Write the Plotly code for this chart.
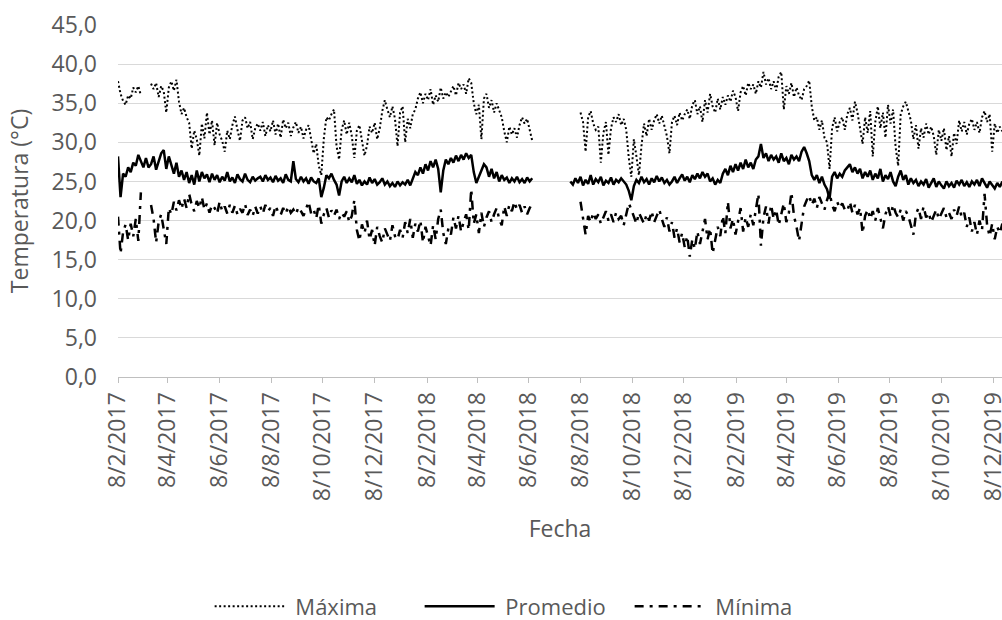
import pandas as pd
import plotly.graph_objects as go

START = "2017-02-08"
STEP_DAYS = 3
X_END = "2019-12-18 14:00"

# ---- Máxima (every 3 days from 8/2/2017; None = no data) ----
maxima_2017 = [37.8, 36.2, 35.3, 34.8, 36.0, 35.6, 37.0, 36.4, 37.2, 36.0,
               None, None, None,
               37.5, 36.8, 37.6, 35.8, 37.2, 36.5, 33.8,
               37.0, 37.8, 36.6, 38.0, 35.2, 33.6, 34.4, 33.2, 32.5, 29.2,
               31.5, 30.4, 28.3, 32.4, 30.5, 33.8, 31.0, 32.8, 29.6, 32.5,
               31.0, 30.2, 28.8, 31.5, 30.4, 32.2, 33.3, 31.6, 30.2, 32.8,
               33.2, 31.8, 32.6, 30.4, 31.8, 32.4,
               31.5, 32.6, 30.8, 32.2, 31.4, 32.8, 31.0, 32.4, 30.6, 32.9,
               31.8, 32.5, 30.8, 31.9, 32.6, 31.2, 32.0, 30.5, 31.6, 32.2,
               30.4, 28.6, 29.8, 27.0, 25.8, 30.5, 33.2, 32.8, 33.6, 34.2,
               29.5, 27.8, 31.6, 32.8, 31.0, 32.5, 30.8, 28.0, 31.5, 32.2,
               30.2, 28.3, 29.6, 32.0, 31.2, 32.5, 30.4, 31.8, 34.0, 35.4,
               34.2, 33.2, 34.6]
maxima_2018 = [33.0, 29.5, 33.8, 34.6,
               30.0, 33.0, 31.8, 33.6, 34.2, 35.6, 36.4, 35.0, 36.2, 35.4,
               36.8, 34.8, 36.0, 35.2, 37.0, 35.6, 36.4, 35.8, 36.6, 37.2,
               36.0, 37.6, 36.8, 37.4, 36.2, 38.2, 37.6, 35.0, 33.6, 34.8,
               30.4, 35.6, 36.2, 34.4, 35.4, 33.8, 35.0, 34.0, 33.2, 31.4,
               30.0, 32.0, 31.0, 31.8, 30.6, 32.2, 33.2, 32.4, 33.0, 31.6, 30.2,
               None, None, None, None, None, None, None, None, None,
               None, None, None, None, None, None, None, None, None,
               33.8, 32.6, 28.8, 33.2, 34.0, 32.4, 31.6, 32.0, 27.4, 31.2,
               32.6, 28.4, 31.8, 33.2, 32.6, 33.6, 32.2, 33.0, 31.6, 28.0,
               25.6, 30.4, 28.2, 25.8, 29.6, 32.4, 30.8, 33.0, 31.6, 32.8,
               33.6, 32.4, 33.4, 32.0, 30.8, 28.6, 32.6, 33.4, 32.2, 33.8,
               32.8, 33.6, 34.2, 33.0, 34.8, 35.4, 33.6, 34.6, 32.6]
maxima_2019 = [35.4, 33.8, 36.2, 34.6, 33.8, 35.6, 34.2, 35.8, 34.8, 36.0,
               35.2, 36.6, 35.8, 34.0, 36.4, 37.2, 36.0, 37.6, 36.8, 37.4,
               36.2, 37.8, 37.0, 39.0, 37.4, 38.2, 36.8, 37.8, 36.6, 38.4,
               39.0, 34.2, 37.2, 36.2, 37.6, 35.8, 37.0, 36.0, 35.4, 36.8,
               37.2, 37.9, 34.6, 32.8, 33.2, 31.6, 32.8, 30.6, 30.0, 26.6,
               31.8, 33.2, 31.4, 32.6, 33.2, 31.6,
               33.6, 34.4, 32.8, 35.2, 33.8, 31.6, 29.8, 33.2, 31.2, 34.0,
               28.2, 32.6, 34.6, 31.8, 33.8, 30.6, 34.8, 32.4, 34.2, 29.4,
               27.0, 33.6, 34.6, 35.2, 33.8, 32.8, 30.4, 32.2, 29.2, 31.8,
               30.6, 32.4, 31.0, 32.0, 30.8, 28.4, 31.6, 30.2, 31.8, 29.0,
               30.8, 28.2, 31.2, 29.8, 32.8, 31.4, 32.6, 31.0, 32.4, 33.0,
               31.6, 32.6, 31.2, 33.2, 34.0, 32.6, 33.6, 28.8, 32.4, 31.2,
               32.0, 31.4]

# ---- Promedio ----
promedio_2017 = [28.2, 23.0, 26.0, 25.6, 26.8, 26.2, 27.4, 27.0, 28.4, 27.6,
                 26.8, 28.0, 26.8, 27.2, 28.2, 26.5, 27.6, 28.6, 29.0, 26.6,
                 28.2, 27.2, 26.0, 27.4, 25.6, 26.4, 25.2, 26.2, 24.8, 25.8,
                 24.6, 26.4, 25.0, 26.2, 25.4, 25.9, 24.9, 26.0, 25.2, 25.8,
                 24.9, 25.6, 25.1, 26.2, 25.0, 25.5, 24.8, 25.9, 25.3, 25.0,
                 26.0, 25.2, 24.9, 25.6, 25.1, 25.4,
                 25.6, 25.0, 25.8, 25.2, 25.5, 24.9, 25.7, 25.1, 25.4, 24.8,
                 25.9, 25.2, 25.0, 27.6, 25.3, 24.9, 25.6, 25.0, 25.4, 24.7,
                 25.5, 25.0, 24.8, 25.4, 23.0, 24.2, 25.8, 25.4, 26.0, 25.2,
                 24.6, 23.2, 25.0, 25.6, 24.8, 25.4, 24.9, 25.8, 24.7, 25.2,
                 24.5, 25.0, 24.6, 25.5, 24.8, 25.3, 24.6, 24.9, 25.4, 24.6,
                 25.0, 24.4, 24.8]
promedio_2018 = [24.3, 25.0, 24.5, 24.9,
                 24.6, 25.2, 24.5, 25.4, 26.2, 25.8, 26.8, 26.0, 27.2, 26.4,
                 27.6, 26.8, 27.8, 26.6, 23.6, 26.4, 27.8, 27.2, 28.0, 27.4,
                 28.3, 27.6, 28.4, 27.8, 28.6, 28.0, 28.4, 26.2, 24.8, 25.6,
                 26.4, 27.2, 26.8, 25.6, 26.6, 25.4, 26.2, 25.0, 25.8, 25.2,
                 25.5, 24.8, 25.4, 25.0, 25.6, 24.9, 25.3, 24.8, 25.5, 25.0, 25.4,
                 None, None, None, None, None, None, None,
                 None, None, None, None, None, None, None,
                 25.0, 24.6, 25.4, 24.8, 25.6, 24.5, 25.2, 24.7, 25.8, 24.6,
                 25.3, 24.9, 25.6, 24.5, 25.1, 24.8, 25.5, 24.6, 25.2, 24.9,
                 25.4, 25.0, 24.6, 23.8, 22.6, 24.4, 25.2, 24.8, 25.6, 24.9,
                 25.3, 24.6, 25.4, 24.9, 25.7, 25.0, 25.5, 24.8, 25.2, 24.6,
                 25.0, 25.6, 24.8, 25.4, 25.9, 25.1, 25.6, 24.9, 25.8, 25.3,
                 26.0, 25.4, 26.2]
promedio_2019 = [25.6, 26.0, 25.0, 25.4, 24.6, 25.2, 24.8, 26.0, 26.6, 25.8,
                 27.0, 26.2, 27.2, 26.4, 27.4, 26.6, 27.8, 26.8, 27.4, 26.6,
                 27.8, 28.2, 29.8, 28.0, 28.6, 27.6, 28.4, 27.8, 28.2, 27.4,
                 28.6, 27.6, 28.0, 27.2, 28.4, 27.8, 28.2, 27.6, 28.8, 29.4,
                 28.6, 27.6, 25.8, 25.2, 25.8, 24.8, 25.6, 24.6, 24.0, 22.8,
                 25.6, 26.2, 25.4, 26.0, 25.6, 26.4,
                 26.8, 27.2, 26.2, 26.8, 26.0, 26.6, 25.4, 26.2, 25.6, 26.4,
                 25.2, 26.0, 25.4, 26.6, 25.0, 25.8, 25.3, 26.2, 25.0, 24.4,
                 25.6, 26.4, 25.2, 25.8, 24.6, 25.4, 24.8, 25.2, 24.4, 25.0,
                 24.6, 25.3, 24.2, 24.9, 25.4, 24.3, 25.0, 24.5, 24.1, 25.0,
                 24.4, 24.8, 24.2, 25.1, 24.6, 25.2, 24.4, 24.9, 24.3, 25.0,
                 24.6, 25.2, 24.4, 25.4, 24.8, 24.2, 25.0, 24.6, 24.1, 24.8,
                 24.3, 25.0]

# ---- Mínima ----
minima_2017 = [20.5, 15.8, 18.5, 19.5, 17.5, 19.6, 18.0, 20.2, 17.4, 23.6,
               None, None, None,
               22.0, 20.2, 17.2, 19.8, 20.8, 19.0, 17.0,
               21.6, 20.8, 22.4, 21.3, 22.6, 21.5, 22.8, 21.6, 23.4, 22.0,
               21.2, 22.5, 21.6, 23.0, 21.4, 22.2, 21.0, 22.0, 21.6, 20.9,
               22.4, 21.2, 21.8, 20.9, 22.0, 21.0, 21.9, 20.8, 21.5, 21.0,
               22.1, 20.7, 21.4, 20.6, 21.8, 20.9,
               21.8, 20.9, 22.0, 21.2, 21.6, 20.6, 21.9, 21.1, 20.7, 21.6,
               20.9, 21.8, 21.0, 21.4, 20.8, 21.7, 21.2, 20.6, 21.5, 22.4,
               20.9, 21.4, 20.3, 22.0, 19.6, 20.8, 21.6, 20.4, 21.3, 20.6,
               21.4, 20.2, 21.0, 20.5, 21.2, 19.8, 20.6, 22.6, 18.8, 17.4,
               19.5, 18.4, 20.0, 17.6, 18.8, 16.8, 19.2, 18.0, 17.2, 19.0,
               18.2, 17.4, 19.4]
minima_2018 = [18.0, 17.6, 18.8, 17.8,
               19.8, 18.4, 20.2, 17.8, 19.6, 18.6, 20.0, 17.2, 19.2, 18.0,
               16.8, 19.4, 17.6, 20.2, 21.4, 18.4, 17.0, 19.0, 18.2, 20.4,
               19.0, 20.6, 18.6, 19.8, 20.8, 18.8, 24.0, 19.6, 20.8, 18.4,
               21.0, 19.2, 20.4, 21.2, 19.8, 20.8, 21.6, 20.2, 19.4, 21.8,
               20.6, 22.0, 21.2, 22.4, 21.4, 22.0, 21.0, 21.8, 20.8, 21.6, 22.2,
               None, None, None, None, None, None, None, None, None,
               None, None, None, None, None, None, None, None, None,
               22.4, 20.0, 18.2, 20.6, 19.8, 21.0, 20.2, 20.8, 19.6, 20.4,
               21.2, 20.0, 20.8, 19.8, 21.0, 20.2, 20.6, 19.4, 20.8, 22.2,
               21.4, 20.4, 19.6, 21.0, 20.2, 19.6, 20.8, 20.0, 21.2, 19.8,
               20.6, 21.4, 20.2, 19.2, 20.4, 18.6, 19.8, 17.8, 19.0, 17.2,
               18.4, 16.6, 18.0, 15.4, 17.6, 16.4, 18.6, 17.0, 18.6]
minima_2019 = [20.2, 17.6, 19.0, 15.8, 17.4, 19.2, 18.0, 20.6, 18.4, 22.4,
               19.0, 20.2, 18.2, 19.8, 21.6, 18.6, 20.4, 19.2, 20.8, 19.4,
               21.2, 23.4, 16.8, 20.4, 21.8, 19.6, 22.0, 20.2, 21.4, 19.4,
               20.8, 22.2, 19.8, 21.0, 23.6, 20.6, 19.2, 17.4, 19.6, 21.8,
               22.6, 23.2, 22.0, 22.8, 21.6, 23.0, 22.2, 21.4, 22.6, 23.6,
               22.0, 21.2, 22.4, 21.6, 22.2, 21.4,
               21.2, 22.4, 21.0, 22.0, 20.8, 21.6, 18.4, 20.6, 21.4, 20.2,
               21.2, 20.0, 21.6, 20.4, 19.0, 20.8, 21.8, 20.6, 22.0, 21.0,
               20.4, 21.4, 20.0, 21.2, 20.6, 19.4, 18.2, 20.8, 21.6, 20.2,
               21.8, 20.4, 21.0, 19.8, 20.6, 21.4, 20.2, 20.8, 21.6, 20.4,
               21.0, 20.2, 21.4, 20.6, 21.8, 20.4, 21.0, 19.2, 20.4, 18.6,
               19.8, 18.2, 20.0, 18.8, 23.4, 19.4, 18.0, 19.6, 17.6, 19.2,
               18.4, 19.6]

tick_dates = ["2017-02-08", "2017-04-08", "2017-06-08", "2017-08-08", "2017-10-08",
              "2017-12-08", "2018-02-08", "2018-04-08", "2018-06-08", "2018-08-08",
              "2018-10-08", "2018-12-08", "2019-02-08", "2019-04-08", "2019-06-08",
              "2019-08-08", "2019-10-08", "2019-12-08"]
tick_labels = ["8/2/2017", "8/4/2017", "8/6/2017", "8/8/2017", "8/10/2017",
               "8/12/2017", "8/2/2018", "8/4/2018", "8/6/2018", "8/8/2018",
               "8/10/2018", "8/12/2018", "8/2/2019", "8/4/2019", "8/6/2019",
               "8/8/2019", "8/10/2019", "8/12/2019"]

maxima = maxima_2017 + maxima_2018 + maxima_2019
promedio = promedio_2017 + promedio_2018 + promedio_2019
minima = minima_2017 + minima_2018 + minima_2019
assert len(maxima) == len(promedio) == len(minima), (len(maxima), len(promedio), len(minima))

fechas = pd.date_range(START, periods=len(promedio), freq=f"{STEP_DAYS}D")

FONT = "Open Sans"
TXT = "#595959"
NB = "\u00a0"  # small gap between legend sample and its label

fig = go.Figure()
fig.add_trace(go.Scatter(x=fechas, y=maxima, name=NB + "Máxima", mode="lines",
                         line=dict(color="#000000", width=2, dash="2px,2.5px"),
                         connectgaps=False))
fig.add_trace(go.Scatter(x=fechas, y=promedio, name=NB + "Promedio", mode="lines",
                         line=dict(color="#000000", width=2.5),
                         connectgaps=False))
fig.add_trace(go.Scatter(x=fechas, y=minima, name=NB + "Mínima", mode="lines",
                         line=dict(color="#000000", width=2.5, dash="9px,6px,3px,6px"),
                         connectgaps=False))

fig.update_layout(
    width=1002, height=620,
    margin=dict(l=118, r=0, t=25, b=243, autoexpand=False),
    paper_bgcolor="white", plot_bgcolor="white",
    separators=",.",
    font=dict(family=FONT, color=TXT, size=22),
    showlegend=True,
    legend=dict(orientation="h", x=0.46, xanchor="center", y=-0.652, yanchor="middle",
                font=dict(size=22, color=TXT), itemwidth=70, bgcolor="rgba(0,0,0,0)",
                entrywidth=125, traceorder="normal"),
    xaxis=dict(type="date", range=[START, X_END], tickmode="array",
               tickvals=tick_dates, ticktext=tick_labels, tickangle=-90,
               ticks="outside", ticklen=5, tickcolor="#bfbfbf", tickwidth=1,
               showline=True, linecolor="#bfbfbf", linewidth=1,
               showgrid=False, zeroline=False, automargin=False,
               ticklabeloverflow="allow",
               tickfont=dict(size=23, color=TXT),
               title=dict(text="Fecha", font=dict(size=23, color=TXT), standoff=20)),
    yaxis=dict(range=[0, 45], tickmode="linear", tick0=0, dtick=5, tickformat=".1f",
               showgrid=True, gridcolor="#d9d9d9", gridwidth=1,
               showline=False, zeroline=False, automargin=False,
               ticks="", ticklabelstandoff=20,
               tickfont=dict(size=23, color=TXT),
               title=dict(text="Temperatura (°C)", font=dict(size=23, color=TXT), standoff=16)),
)

fig.write_html("out.html")
